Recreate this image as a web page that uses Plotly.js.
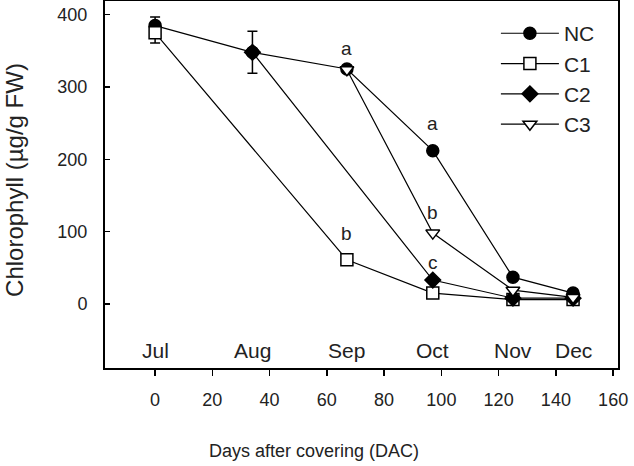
<!DOCTYPE html>
<html>
<head>
<meta charset="utf-8">
<script src="https://cdn.plot.ly/plotly-3.0.1.min.js"></script>
<style>html,body{margin:0;padding:0;background:#fff;}#chart{width:634px;height:466px;}</style>
</head>
<body>
<div id="chart"></div>
<script>
// Days after covering (DAC) for each sampling month
const months = ["Jul", "Aug", "Sep", "Oct", "Nov", "Dec"];
const monthDays = [0, 34, 67, 97, 125, 146];

// Chlorophyll (µg/g FW)
const ncX = [0, 34, 67, 97, 125, 146];
const ncY = [385, 348, 325, 212, 37, 15];
const ncErr = [12, 29, 0, 0, 0, 0];

const c1X = [0, 67, 97, 125, 146];
const c1Y = [375, 61, 15, 6, 6];
const c1Err = [14, 0, 0, 0, 0];

const c2X = [34, 97, 125, 146];
const c2Y = [348, 33, 8, 8];

const c3X = [67, 97, 125, 146];
const c3Y = [324, 98, 19, 9];

// significance letters
const sigX = [67, 97, 97, 97, 67];
const sigY = [354, 250, 127, 58, 98];
const sigText = ["a", "a", "b", "c", "b"];

const FONT = "Liberation Sans, Arial, sans-serif";
const TXT = "#222";

function tr(name, x, y, symbol, fill, err) {
  const t = {
    type: "scatter", mode: "lines+markers", name: name, x: x, y: y,
    line: {color: "#000", width: 1.2},
    marker: {symbol: symbol, size: 12, color: fill, line: {color: "#000", width: 1.5}},
    cliponaxis: false
  };
  if (err) {
    t.error_y = {type: "data", array: err, visible: true, color: "#000", thickness: 1.5, width: 5};
  }
  return t;
}

const data = [
  tr("NC", ncX, ncY, "circle", "#000", ncErr),
  tr("C1", c1X, c1Y, "square", "#fff", c1Err),
  tr("C2", c2X, c2Y, "diamond", "#000", null),
  tr("C3", c3X, c3Y, "triangle-down", "#fff", null)
];

const annotations = [];
months.forEach((m, i) => {
  annotations.push({x: monthDays[i], y: -65, xref: "x", yref: "y", text: m, showarrow: false,
    font: {family: FONT, size: 21, color: TXT}, xanchor: "center", yanchor: "middle"});
});
sigText.forEach((s, i) => {
  annotations.push({x: sigX[i], y: sigY[i], xref: "x", yref: "y", text: s, showarrow: false,
    font: {family: FONT, size: 19, color: TXT}, xanchor: "center", yanchor: "middle"});
});
annotations.push({x: 0.407, y: -0.226, xref: "paper", yref: "paper", text: "Days after covering (DAC)",
  showarrow: false, font: {family: FONT, size: 18, color: TXT}, xanchor: "center", yanchor: "middle"});
annotations.push({x: -0.175, y: 0.513, xref: "paper", yref: "paper", text: "Chlorophyll (µg/g FW)",
  textangle: -90, showarrow: false, font: {family: FONT, size: 24, color: TXT}, xanchor: "center", yanchor: "middle"});

const layout = {
  width: 634, height: 466,
  margin: {l: 105, r: 16, t: 1, b: 98},
  paper_bgcolor: "#fff", plot_bgcolor: "#fff",
  font: {family: FONT, size: 18, color: TXT},
  showlegend: true,
  legend: {x: 0.762, y: 0.967, xanchor: "left", yanchor: "top", bgcolor: "rgba(0,0,0,0)",
    font: {family: FONT, size: 21, color: TXT}, itemwidth: 58},
  xaxis: {
    range: [-17.5, 161.7], tickvals: [0, 20, 40, 60, 80, 100, 120, 140, 160],
    ticks: "outside", ticklen: 6, tickwidth: 1.5, tickcolor: "#000",
    showline: true, linecolor: "#000", linewidth: 2, mirror: true,
    showgrid: false, zeroline: false, ticklabelstandoff: 8,
    tickfont: {family: FONT, size: 18, color: TXT}
  },
  yaxis: {
    range: [-88.6, 419], tickvals: [0, 100, 200, 300, 400],
    ticks: "inside", ticklen: 5, tickwidth: 1.5, tickcolor: "#000",
    showline: true, linecolor: "#000", linewidth: 2, mirror: true,
    showgrid: false, zeroline: false, ticklabelstandoff: 12,
    tickfont: {family: FONT, size: 18, color: TXT}
  },
  annotations: annotations
};

Plotly.newPlot("chart", data, layout, {displayModeBar: false, staticPlot: true});
</script>
</body>
</html>
